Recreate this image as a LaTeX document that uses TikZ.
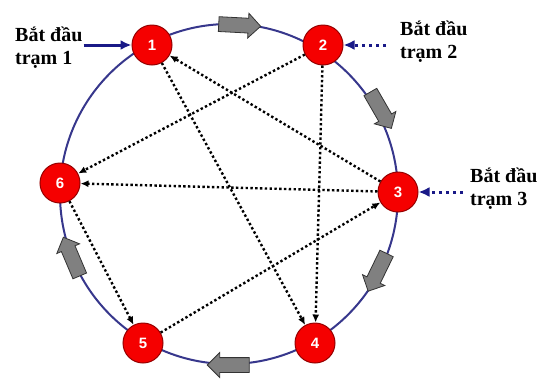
\documentclass[tikz,border=0pt]{standalone}
\usepackage{fontspec}
\setmainfont{Liberation Serif}
\setsansfont{Liberation Sans}
\usetikzlibrary{arrows.meta,shapes.arrows}
\definecolor{ringblue}{RGB}{55,55,140}
\definecolor{startblue}{RGB}{25,25,135}
\definecolor{nodered}{RGB}{245,0,0}
\definecolor{nodeedge}{RGB}{150,0,0}
\tikzset{
  station/.style={draw=nodeedge,fill=nodered,circle,inner sep=0pt,minimum size=40pt,line width=1pt,text=white,font=\sffamily\bfseries\fontsize{15}{15}\selectfont},
  flow/.style={draw=gray!40!black,fill=gray,single arrow,minimum height=42pt,single arrow head extend=5pt,inner sep=7pt,line width=0.8pt},
  hop/.style={line width=2.4pt,dash pattern=on 2.4pt off 2.4pt,-{Latex[length=8pt,width=7pt]}},
  starttext/.style={align=left,inner sep=0pt,font=\bfseries\fontsize{20}{23}\selectfont},
  startline/.style={startblue,line width=3pt,-{Latex[length=11pt,width=10pt]}},
}
\begin{document}
\begin{tikzpicture}[x=1pt,y=-1pt]
                \useasboundingbox (0,0) rectangle (546,381);
                % vong tron
                \draw[ringblue,line width=2pt] (229,194) ellipse [x radius=169,y radius=170];
                \node[flow,rotate=-3] (f12) at (236,25) {};
                \node[flow,rotate=-60] (f23) at (379,107) {};
                \node[flow,rotate=-116] (f34) at (379,269) {};
                \node[flow,rotate=180] (f45) at (232,365) {};
                \node[flow,rotate=113] (f56) at (73,260) {};
                % cac tram
                \node[station] (n1) at (152,45) {1};
                \node[station] (n2) at (323,45) {2};
                \node[station] (n3) at (398,192) {3};
                \node[station] (n4) at (315,343) {4};
                \node[station] (n5) at (143,343) {5};
                \node[station] (n6) at (60,183) {6};
                \draw[hop] (n3) -- (n1);
                \draw[hop] (n3) -- (n6);
                \draw[hop] (n5) -- (n3);
                \draw[hop] (n2) -- (n6);
                \draw[hop] (n2) -- (n4);
                \draw[hop] (n1) -- (n4);
                \draw[hop] (n6) -- (n5);
                % bat dau
                \node[starttext,anchor=north west] (s1) at (15,27) {Bắt đầu\\trạm 1};
                \node[starttext,anchor=north west] (s2) at (400,21) {Bắt đầu\\trạm 2};
                \node[starttext,anchor=north west] (s3) at (470,168) {Bắt đầu\\trạm 3};
                \draw[startline] ([xshift=1pt]s1.east |- n1) -- (n1);
                \draw[startline,dash pattern=on 3.5pt off 3.5pt] ([xshift=-14pt]s2.west |- n2) -- (n2);
                \draw[startline,dash pattern=on 3.5pt off 3.5pt] ([xshift=-7pt]s3.west |- n3) -- (n3);
            \end{tikzpicture}
\end{document}
